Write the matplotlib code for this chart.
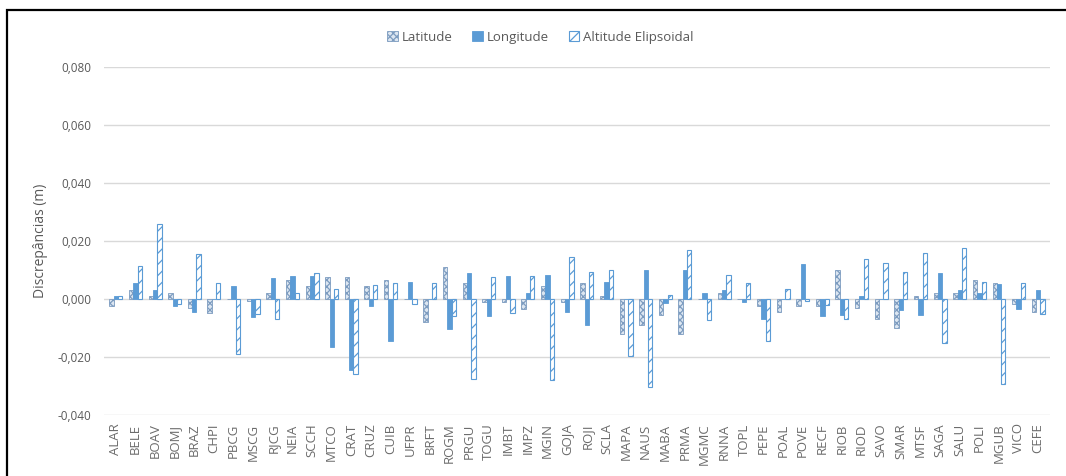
import numpy as np
import matplotlib
matplotlib.use("Agg")
import matplotlib.pyplot as plt
from matplotlib.patches import Rectangle
from matplotlib.ticker import FuncFormatter

# Discrepancias por estacao (m)
estacoes = ["ALAR", "BELE", "BOAV", "BOMJ", "BRAZ", "CHPI", "PBCG", "MSCG",
            "RJCG", "NEIA", "SCCH", "MTCO", "CRAT", "CRUZ", "CUIB", "UFPR",
            "BRFT", "ROGM", "PRGU", "TOGU", "IMBT", "IMPZ", "MGIN", "GOJA",
            "ROJI", "SCLA", "MAPA", "NAUS", "MABA", "PRMA", "MGMC", "RNNA",
            "TOPL", "PEPE", "POAL", "POVE", "RECF", "RIOB", "RIOD", "SAVO",
            "SMAR", "MTSF", "SAGA", "SALU", "POLI", "MGUB", "VICO", "CEFE"]

latitude = [-0.0023, 0.0033, 0.0011, 0.0022, -0.0032, -0.0047, 0.0, -0.0005,
            0.0022, 0.0067, 0.0045, 0.0076, 0.0076, 0.0045, 0.0066, 0.0,
            -0.0078, 0.0109, 0.0055, -0.0010, -0.0010, -0.0033, 0.0045, -0.0010,
            0.0055, 0.0011, -0.0122, -0.0091, -0.0056, -0.0122, 0.0, 0.0020,
            0.0, -0.0023, -0.0046, -0.0024, -0.0023, 0.0099, -0.0032, -0.0067,
            -0.0100, 0.0011, 0.0020, 0.0020, 0.0066, 0.0054, -0.0017, -0.0046]

longitude = [0.0011, 0.0055, 0.0032, -0.0023, -0.0044, 0.0, 0.0046, -0.0063,
             0.0074, 0.0079, 0.0079, -0.0164, -0.0243, -0.0024, -0.0143, 0.0059,
             0.0, -0.0102, 0.0090, -0.0059, 0.0079, 0.0020, 0.0082, -0.0044,
             -0.0089, 0.0059, 0.0, 0.0099, -0.0013, 0.0102, 0.0020, 0.0031,
             -0.0011, -0.0067, 0.0, 0.0120, -0.0057, -0.0056, 0.0010, 0.0,
             -0.0039, -0.0056, 0.0089, 0.0031, 0.0020, 0.0051, -0.0033, 0.0031]

altitude = [0.0011, 0.0114, 0.0259, -0.0018, 0.0155, 0.0056, -0.0190, -0.0053,
            -0.0070, 0.0020, 0.0089, 0.0035, -0.0260, 0.0048, 0.0055, -0.0017,
            0.0055, -0.0060, -0.0275, 0.0075, -0.0049, 0.0079, -0.0280, 0.0144,
            0.0092, 0.0102, -0.0195, -0.0302, 0.0014, 0.0170, -0.0071, 0.0082,
            0.0057, -0.0143, 0.0034, -0.0006, -0.0020, -0.0070, 0.0137, 0.0123,
            0.0093, 0.0160, -0.0153, 0.0175, 0.0059, -0.0294, 0.0054, -0.0053]

azul = "#5b9bd5"
cinza = "#595959"

plt.rcParams["font.family"] = ["Open Sans", "DejaVu Sans"]
plt.rcParams["hatch.linewidth"] = 0.9

fig = plt.figure(figsize=(10.66, 4.76), dpi=100)
ax = fig.add_axes([0.0976, 0.128, 0.8874, 0.731])

x = np.arange(len(estacoes))
w = 0.22
b1 = ax.bar(x - w, latitude, w, facecolor="#dce6f1", edgecolor="#7d9cc0",
            hatch="xxxxx", linewidth=0.6, label="Latitude", zorder=3)
b2 = ax.bar(x, longitude, w, color=azul, edgecolor=azul, linewidth=0.6,
            label="Longitude", zorder=3)
b3 = ax.bar(x + w, altitude, w, facecolor="white", edgecolor=azul,
            hatch="///", linewidth=0.8, label="Altitude Elipsoidal", zorder=3)

ax.set_ylim(-0.04, 0.08)
ax.set_yticks(np.arange(-0.04, 0.0801, 0.02))
ax.yaxis.set_major_formatter(FuncFormatter(lambda v, p: f"{v:.3f}".replace(".", ",")))
ax.set_xlim(-0.6, len(estacoes) - 0.4)
ax.set_xticks(x)
ax.set_xticklabels(estacoes, rotation=90, fontsize=9.5, color="#6b6b6b")
ax.tick_params(axis="y", labelsize=8.5, labelcolor=cinza, length=0, pad=9)
ax.tick_params(axis="x", length=0, pad=6)
ax.grid(axis="y", color="#d9d9d9", linewidth=1, zorder=0)
for s in ax.spines.values():
    s.set_visible(False)

ax.set_ylabel("Discrepâncias (m)", fontsize=10, color=cinza, labelpad=7)

fig.legend(handles=[b1, b2, b3], loc="center", bbox_to_anchor=(0.507, 0.922),
           ncol=3, frameon=False, fontsize=9.5, labelcolor=cinza,
           handlelength=0.8, handleheight=0.8, handletextpad=0.3,
           columnspacing=1.5)

# moldura externa
fig.patches.append(Rectangle((7 / 1066, -0.01), 1.1, 1 - 10 / 476 + 0.01,
                             transform=fig.transFigure, fill=False,
                             edgecolor="black", linewidth=1.6))

fig.savefig("out.png", dpi=100)
